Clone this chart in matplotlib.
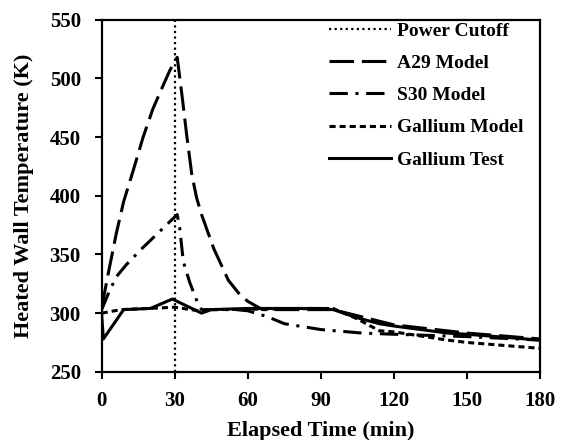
import matplotlib
matplotlib.use("Agg")
import matplotlib.pyplot as plt

plt.rcParams['font.family'] = ['Liberation Serif', 'DejaVu Serif']
plt.rcParams['font.weight'] = 'bold'

cutoff_time = 30

# A29 model (long dash)
a29_t = [0, 3, 6, 9, 13, 17, 21, 25, 28, 31, 33, 35, 37, 39, 41, 46, 52, 57, 60, 66, 95, 120, 150, 180]
a29_k = [305, 337, 368, 395, 422, 450, 474, 493, 507, 518, 485, 450, 418, 398, 384, 355, 328, 315, 310, 303, 303, 290, 283, 278]

# S30 model (dash-dot)
s30_t = [0, 3, 6, 10, 16, 21, 26, 30, 31, 32, 33.5, 36, 39.7, 41, 55, 60, 68, 75, 90, 107, 120, 150, 180]
s30_k = [303, 318, 331, 341, 354, 364, 374, 382, 384, 373, 344, 327, 307, 303, 303, 302, 297, 291, 286, 283, 282, 280, 277]

# Gallium model (short dash)
gm_t = [0, 8, 30, 40, 45, 95, 105, 114, 120, 142, 150, 180]
gm_k = [300, 303, 305, 302, 303, 304, 295, 285, 284, 277, 275, 270]

# Gallium test (solid)
gt_t = [0, 0.7, 9, 20, 29, 41, 45, 60, 90, 95, 105, 114, 120, 142, 150, 180]
gt_k = [298, 278, 303, 304, 312, 300, 303, 304, 304, 303, 296, 291, 289, 283, 282, 277]

fig = plt.figure(figsize=(5.65, 4.4), dpi=100)
ax = fig.add_axes([0.18, 0.155, 0.776, 0.80])

ax.axvline(cutoff_time, color='black', linestyle=(0, (1, 1.5)), linewidth=1.6, label='Power Cutoff')
ax.plot(a29_t, a29_k, color='black', linestyle=(0, (8, 2.6)), linewidth=2.2, label='A29 Model')
ax.plot(s30_t, s30_k, color='black', linestyle=(0, (6, 2.5, 1, 2.5)), linewidth=2.2, label='S30 Model')
ax.plot(gm_t, gm_k, color='black', linestyle=(0, (2.0, 1.3)), linewidth=2.2, label='Gallium Model')
ax.plot(gt_t, gt_k, color='black', linestyle='-', linewidth=2.2, label='Gallium Test')

ax.set_xlim(0, 180)
ax.set_ylim(250, 550)
ax.set_xticks(range(0, 181, 30))
ax.set_yticks(range(250, 551, 50))
ax.tick_params(direction='out', length=5, width=1.5, labelsize=15)
ax.tick_params(axis='x', pad=9)
ax.tick_params(axis='y', pad=10)
for lab in ax.get_xticklabels() + ax.get_yticklabels():
    lab.set_fontweight('bold')
for s in ax.spines.values():
    s.set_linewidth(1.6)

ax.set_xlabel("Elapsed Time (min)", fontsize=16, fontweight='bold', labelpad=7)
ax.set_ylabel("Heated Wall Temperature (K)", fontsize=16, fontweight='bold', labelpad=11)

ax.legend(loc='upper right', bbox_to_anchor=(0.98, 1.015), frameon=False, handlelength=3.2,
          handletextpad=0.3, labelspacing=0.75, borderaxespad=0.0,
          prop={'weight': 'bold', 'size': 14})

plt.savefig("out.png", dpi=100)
